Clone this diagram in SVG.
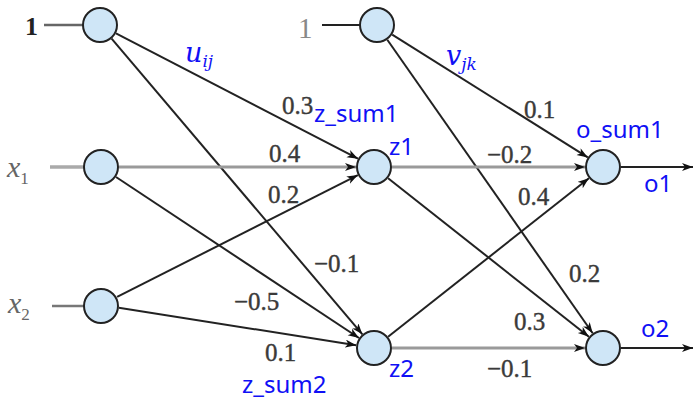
<svg xmlns="http://www.w3.org/2000/svg" width="695" height="401" viewBox="0 0 695 401">
<style>
.node{fill:#cfe6f7;stroke:#222;stroke-width:2}
.ln{stroke:#222;stroke-width:2;fill:none}
.gl{stroke:#9a9a9a;stroke-width:3;fill:none}
.w{font-family:"Liberation Serif",serif;font-size:25px;fill:#3a3a3a;stroke:#3a3a3a;stroke-width:0.4}
.b{font-family:"Noto Sans","Open Sans",sans-serif;font-size:24px;fill:#1010f5}
.m{font-family:"DejaVu Serif",serif;font-style:italic;fill:#1010f5}
.in{font-family:"Liberation Serif",serif;font-style:italic;font-size:30px;fill:#666}
</style>
<defs>
<marker id="ah" markerUnits="userSpaceOnUse" markerWidth="12" markerHeight="10" refX="11" refY="4" orient="auto">
<path d="M0,0 L11,4 L0,8 L3,4 Z" fill="#111"/>
</marker>
</defs>
<g id="connectors">
<line x1="44" y1="25" x2="83" y2="25" style="stroke:#666;stroke-width:2.5"/>
<line class="gl" x1="50" y1="167" x2="84" y2="167" style="stroke:#aaa;stroke-width:3.5"/>
<line x1="52" y1="306" x2="84" y2="306" style="stroke:#777;stroke-width:2.5"/>
<line class="ln" x1="322" y1="25" x2="360" y2="25"/>
<line class="ln" x1="116" y1="33.3" x2="358" y2="158.7" marker-end="url(#ah)"/>
<line class="ln" x1="111.6" y1="38.7" x2="362.4" y2="334.3" marker-end="url(#ah)"/>
<line class="gl" x1="119" y1="167" x2="356" y2="167" marker-end="url(#ah)"/>
<line class="ln" x1="116" y1="177" x2="359" y2="338" marker-end="url(#ah)"/>
<line class="ln" x1="117.1" y1="296.9" x2="357.9" y2="175.1" marker-end="url(#ah)"/>
<line class="ln" x1="118.8" y1="307.8" x2="356.2" y2="345.2" marker-end="url(#ah)"/>
<line class="ln" x1="392.2" y1="34.6" x2="587.8" y2="157.4" marker-end="url(#ah)"/>
<line class="ln" x1="387.3" y1="39.7" x2="592.7" y2="333.3" marker-end="url(#ah)"/>
<line class="gl" x1="392" y1="167" x2="585" y2="167" marker-end="url(#ah)"/>
<line class="ln" x1="388.1" y1="178.2" x2="588.9" y2="336.8" marker-end="url(#ah)"/>
<line class="ln" x1="388.1" y1="336.8" x2="588.9" y2="178.2" marker-end="url(#ah)"/>
<line class="gl" x1="392" y1="348" x2="585" y2="348" marker-end="url(#ah)"/>
<line class="ln" x1="621" y1="167" x2="693" y2="167" marker-end="url(#ah)"/>
<line class="ln" x1="621" y1="348" x2="693" y2="348" marker-end="url(#ah)"/>
</g>
<g id="in-bias"><circle class="node" cx="100" cy="25" r="17"/><text x="25" y="35" style="font-family:'Liberation Serif',serif;font-size:26px;font-weight:bold;fill:#222">1</text></g>
<g id="in-x1"><circle class="node" cx="101" cy="167" r="17"/><text class="in" x="7" y="177">x<tspan font-size="17" dy="7" font-style="normal">1</tspan></text></g>
<g id="in-x2"><circle class="node" cx="101" cy="306" r="17"/><text class="in" x="8" y="313">x<tspan font-size="17" dy="7" font-style="normal">2</tspan></text></g>
<g id="hid-bias"><circle class="node" cx="377" cy="25" r="17"/><text x="298" y="38" style="font-family:'Liberation Serif',serif;font-size:29px;fill:#888">1</text></g>
<g id="z1"><circle class="node" cx="374" cy="167" r="17"/><text class="b" x="389" y="155">z1</text><text class="b" x="314" y="122">z_sum1</text></g>
<g id="z2"><circle class="node" cx="374" cy="348" r="17"/><text class="b" x="389" y="377">z2</text><text class="b" x="242" y="393">z_sum2</text></g>
<g id="o1"><circle class="node" cx="603" cy="167" r="17"/><text class="b" x="576" y="138">o_sum1</text><text class="b" x="644" y="192">o1</text></g>
<g id="o2"><circle class="node" cx="603" cy="348" r="17"/><text class="b" x="641" y="337">o2</text></g>
<g id="labels">
<text class="m" x="185" y="62" font-size="27">u<tspan font-size="17" dy="5">ij</tspan></text>
<text class="m" x="446" y="65" font-size="27">v<tspan font-size="17" dy="5">jk</tspan></text>
<text class="w" x="282" y="114">0.3</text>
<text class="w" x="269" y="162">0.4</text>
<text class="w" x="268" y="203">0.2</text>
<text class="w" x="314" y="272">−0.1</text>
<text class="w" x="234" y="310">−0.5</text>
<text class="w" x="265" y="361">0.1</text>
<text class="w" x="524" y="118">0.1</text>
<text class="w" x="487" y="163">−0.2</text>
<text class="w" x="518" y="205">0.4</text>
<text class="w" x="569" y="282">0.2</text>
<text class="w" x="514" y="330">0.3</text>
<text class="w" x="487" y="377">−0.1</text>
</g>
</svg>
